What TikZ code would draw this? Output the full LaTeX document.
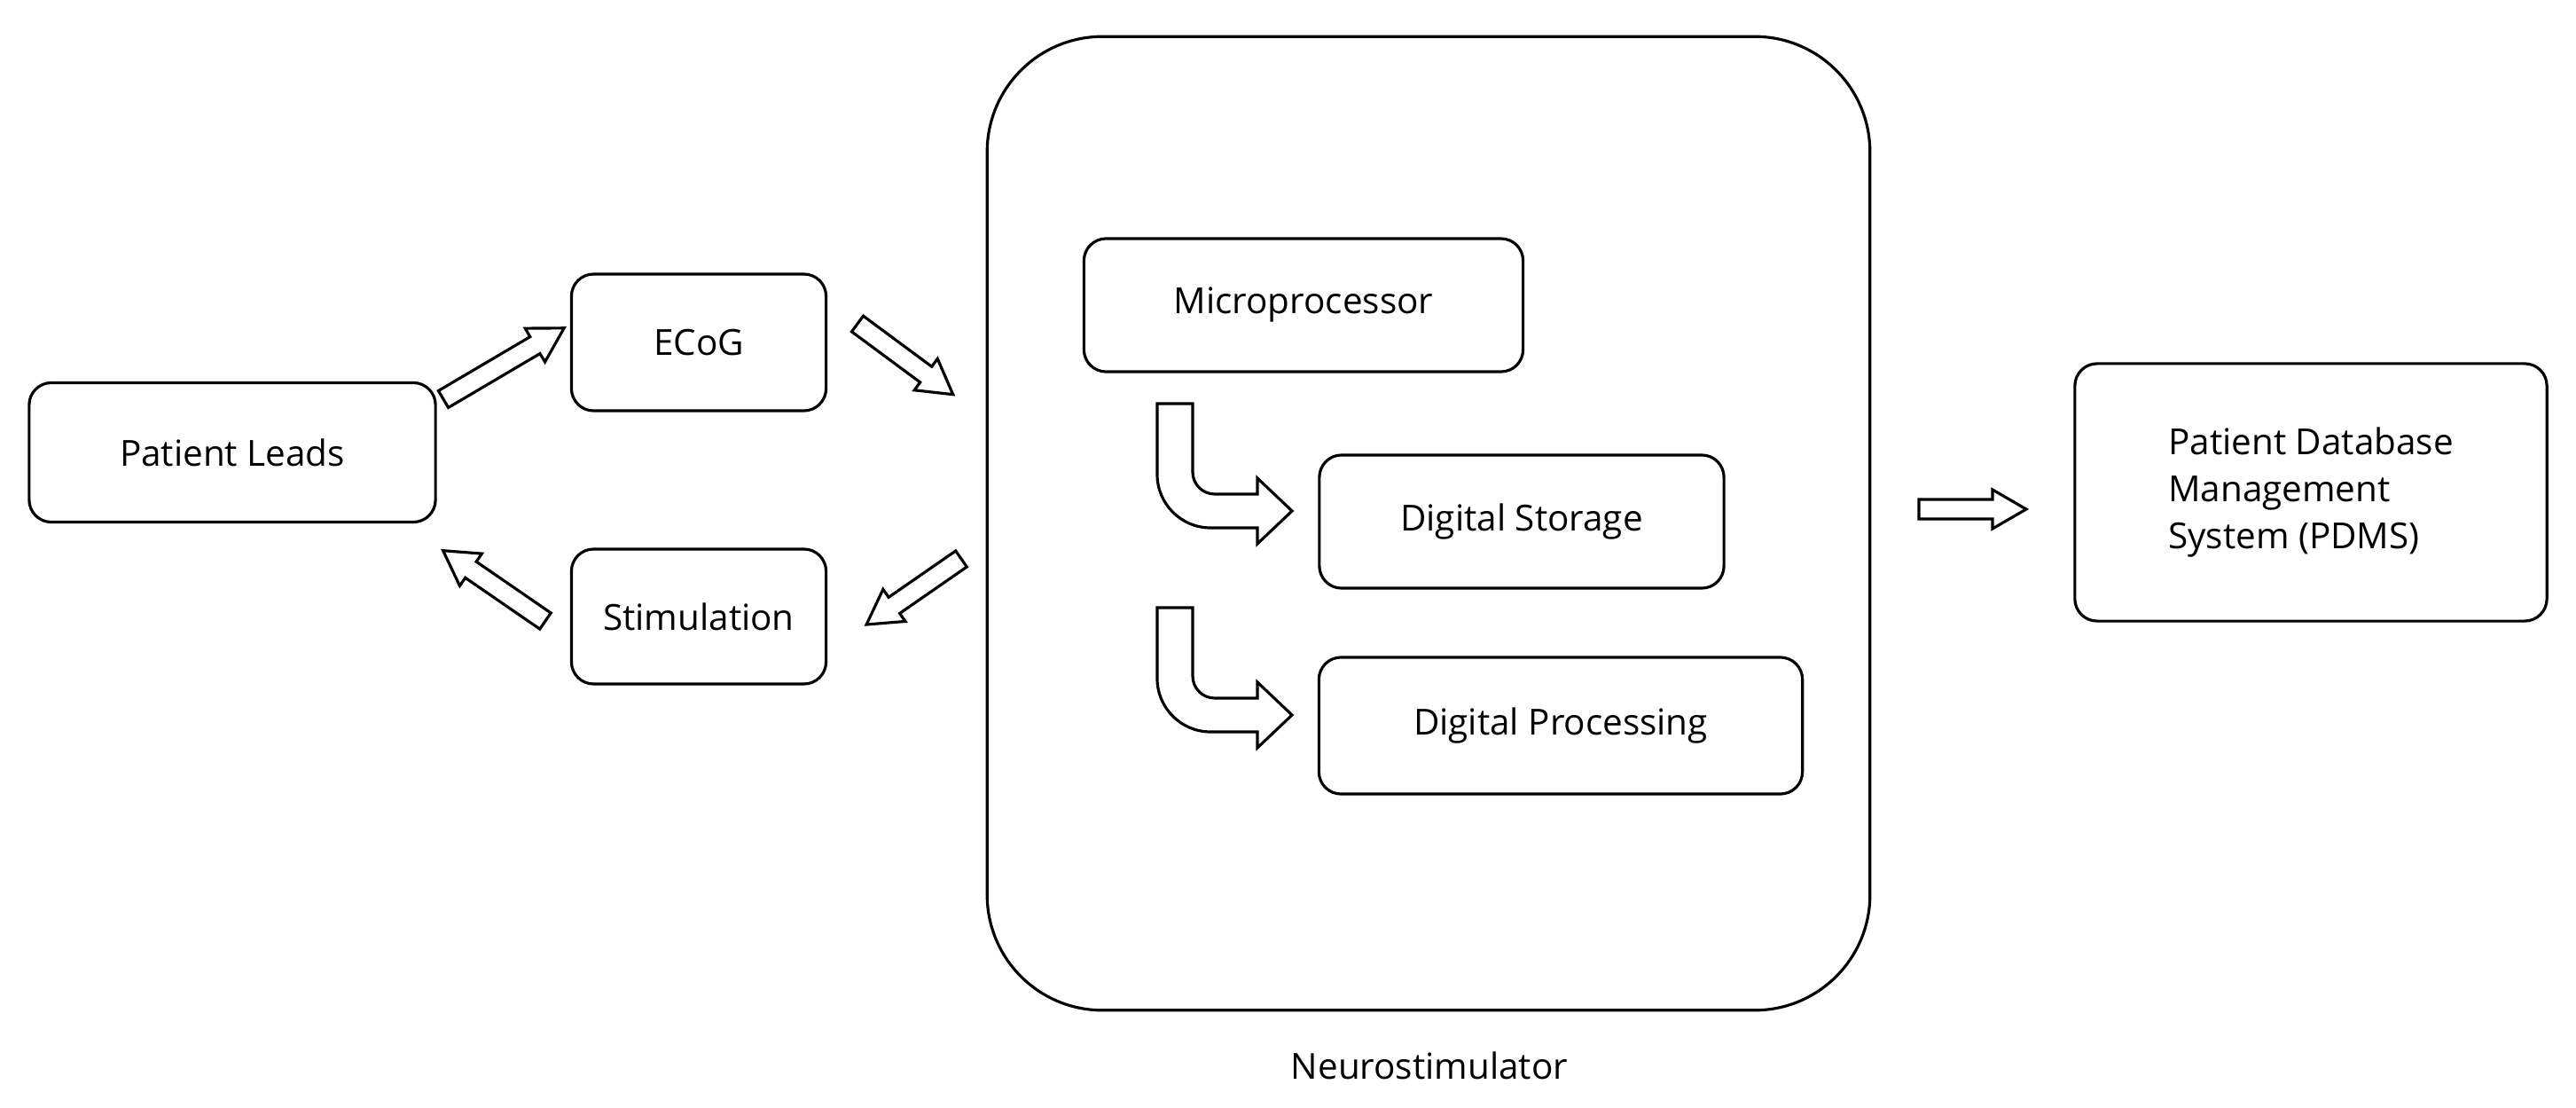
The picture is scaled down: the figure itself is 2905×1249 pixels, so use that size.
\documentclass[tikz,border=0pt]{standalone}
\usepackage{fontspec}
\setmainfont{Open Sans}
\begin{document}
\begin{tikzpicture}[x=0.01cm,y=-0.01cm,line width=0.9pt,
  box/.style={draw,rounded corners=0.25cm,font=\fontsize{11.5}{15}\selectfont,inner sep=0pt,align=center},
  pics/barrow/.style={code={\draw[line join=miter] (0,-11)--({#1-38},-11)--({#1-38},-22)--(#1,0)--({#1-38},22)--({#1-38},11)--(0,11)--cycle;}},
  pics/bent/.style={code={\draw (0,0)--(0,80) .. controls (0,113) and (27,140) .. (60,140)--(113,140)--(113,158)--(152,121)--(113,84)--(113,102)--(65,102) .. controls (51,102) and (40,91) .. (40,77)--(40,0)--cycle;}}]
\useasboundingbox (0,0) rectangle (2905,1249);
\node[box,minimum width=4.58cm,minimum height=1.57cm] (pl) at (262,510) {Patient Leads};
\node[box,minimum width=2.87cm,minimum height=1.54cm] (ecog) at (788,386) {ECoG};
\node[box,minimum width=2.87cm,minimum height=1.52cm] (stim) at (788,695) {Stimulation};
\node[box,rounded corners=1.3cm,minimum width=9.95cm,minimum height=10.97cm] (ns) at (1611,590) {};
\node[font=\fontsize{11.5}{15}\selectfont] (nsl) at (1612,1201) {Neurostimulator};
\node[box,minimum width=4.95cm,minimum height=1.5cm] (mp) at (1470,344) {Microprocessor};
\node[box,minimum width=4.56cm,minimum height=1.5cm] (ds) at (1716,588) {Digital Storage};
\node[box,minimum width=5.45cm,minimum height=1.54cm] (dp) at (1760,818) {Digital Processing};
\node[box,minimum width=5.32cm,minimum height=2.9cm,align=left] (pdms) at (2606,555) {Patient Database\\Management\\System (PDMS)};
\pic[rotate=30.5] at (500,450) {barrow=158};
\pic[rotate=-36.5] at (967,365) {barrow=134};
\pic[rotate=214.7] at (1084,630) {barrow=130};
\pic[rotate=145.5] at (615,700) {barrow=140};
\pic at (2164,574) {barrow=121};
\pic at (1305,455) {bent};
\pic at (1305,685) {bent};
\end{tikzpicture}
\end{document}
